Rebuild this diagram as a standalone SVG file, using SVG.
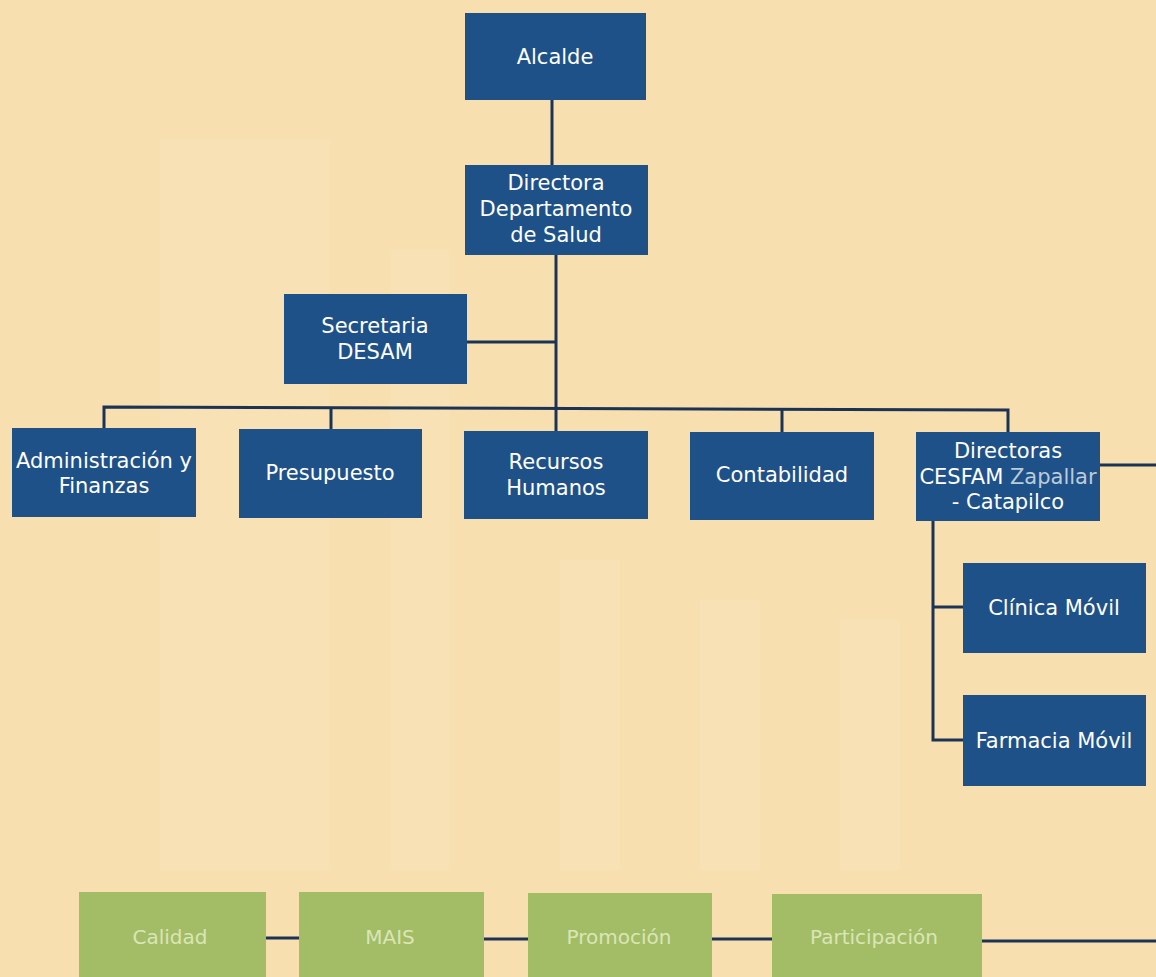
<svg xmlns="http://www.w3.org/2000/svg" width="1156" height="977" viewBox="0 0 1156 977">
<style>
.bg{fill:#f7dfb0}
.ghost{fill:#faebcc;opacity:0.2}
.blue{fill:#1f5189}
.green{fill:#a2bd66}
.t{font-family:"DejaVu Sans","Liberation Sans",sans-serif;font-size:21px;fill:#ffffff;text-anchor:middle}
.tg{font-family:"DejaVu Sans","Liberation Sans",sans-serif;font-size:20px;fill:#dbe5b6;text-anchor:middle}
.hl{fill:#bccbd8}
.c{stroke:#1c3354;stroke-width:3;fill:none}
</style>
<rect class="bg" x="0" y="0" width="1156" height="977"/>
<g id="ghosts">
<rect class="ghost" x="160" y="140" width="170" height="730"/>
<rect class="ghost" x="390" y="250" width="60" height="620"/>
<rect class="ghost" x="560" y="560" width="60" height="310"/>
<rect class="ghost" x="700" y="600" width="60" height="270"/>
<rect class="ghost" x="840" y="620" width="60" height="250"/>
</g>
<g id="connectors">
<line class="c" x1="552" y1="100" x2="552" y2="165"/>
<line class="c" x1="556" y1="255" x2="556" y2="431"/>
<line class="c" x1="467" y1="342" x2="556" y2="342"/>
<polyline class="c" points="104,428 104,407 1008,410 1008,432"/>
<line class="c" x1="331" y1="407" x2="331" y2="429"/>
<line class="c" x1="782" y1="409" x2="782" y2="432"/>
<line class="c" x1="1100" y1="465" x2="1156" y2="465"/>
<polyline class="c" points="933,521 933,740 963,740"/>
<line class="c" x1="933" y1="607" x2="963" y2="607"/>
<line class="c" x1="266" y1="938" x2="299" y2="938"/>
<line class="c" x1="484" y1="939" x2="528" y2="939"/>
<line class="c" x1="712" y1="939" x2="772" y2="939"/>
<line class="c" x1="982" y1="941" x2="1156" y2="941"/>
</g>
<g id="alcalde"><rect class="blue" x="465" y="13" width="181" height="87"/><text class="t" x="555" y="64">Alcalde</text></g>
<g id="directora"><rect class="blue" x="465" y="165" width="183" height="90"/><text class="t" x="556" y="190">Directora</text><text class="t" x="556" y="216">Departamento</text><text class="t" x="556" y="242">de Salud</text></g>
<g id="secretaria"><rect class="blue" x="284" y="294" width="183" height="90"/><text class="t" x="375" y="333">Secretaria</text><text class="t" x="375" y="359">DESAM</text></g>
<g id="administracion"><rect class="blue" x="12" y="428" width="184" height="89"/><text class="t" x="104" y="468">Administración y</text><text class="t" x="104" y="493">Finanzas</text></g>
<g id="presupuesto"><rect class="blue" x="239" y="429" width="183" height="89"/><text class="t" x="330" y="480">Presupuesto</text></g>
<g id="recursos"><rect class="blue" x="464" y="431" width="184" height="88"/><text class="t" x="556" y="469">Recursos</text><text class="t" x="556" y="495">Humanos</text></g>
<g id="contabilidad"><rect class="blue" x="690" y="432" width="184" height="88"/><text class="t" x="782" y="482">Contabilidad</text></g>
<g id="directoras"><rect class="blue" x="916" y="432" width="184" height="89"/><text class="t" x="1008" y="458">Directoras</text><text class="t" x="1008" y="484">CESFAM <tspan class="hl">Zapallar</tspan></text><text class="t" x="1008" y="509">- Catapilco</text></g>
<g id="clinica"><rect class="blue" x="963" y="563" width="183" height="90"/><text class="t" x="1054" y="615">Clínica Móvil</text></g>
<g id="farmacia"><rect class="blue" x="963" y="695" width="183" height="91"/><text class="t" x="1054" y="748">Farmacia Móvil</text></g>
<g id="calidad"><rect class="green" x="79" y="892" width="187" height="85"/><text class="tg" x="170" y="944">Calidad</text></g>
<g id="mais"><rect class="green" x="299" y="892" width="185" height="85"/><text class="tg" x="390" y="944">MAIS</text></g>
<g id="promocion"><rect class="green" x="528" y="893" width="184" height="84"/><text class="tg" x="619" y="944">Promoción</text></g>
<g id="participacion"><rect class="green" x="772" y="894" width="210" height="83"/><text class="tg" x="874" y="944">Participación</text></g>
</svg>
